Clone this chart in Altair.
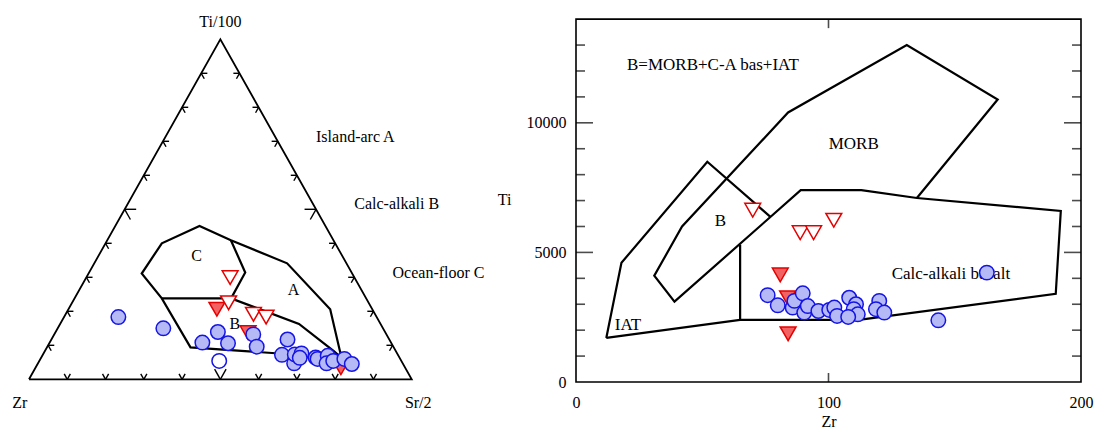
import altair as alt
import pandas as pd

FONT = "'Liberation Serif', 'Times New Roman', serif"
FS = 16
FS_FIELD = 17
BLUE = "#1414e6"
LAVENDER = "#b5b9f5"
RED = "#e50000"
PINK = "#f26262"

# ---------------- Ti/100 - Zr - Sr/2 ternary (percent of each apex) ----------------
t_circ_zr = [67.5, 57.4, 49.3, 43.7, 42.7, 34.8, 35.7, 26.6, 30.3, 28.4, 26.9, 25.0, 26.1, 21.9, 21.6, 18.5, 19.9, 17.8, 14.6, 13.4]
t_circ_ti = [18.3, 15.0, 10.8, 13.9, 10.6, 13.2, 9.6, 11.7, 7.2, 4.7, 7.3, 7.6, 6.3, 6.4, 6.0, 6.9, 4.7, 5.4, 6.0, 4.5]
t_circ_sr = [14.2, 27.6, 39.9, 42.4, 46.7, 52.0, 54.7, 61.7, 62.5, 67.0, 65.8, 67.4, 67.6, 71.7, 72.4, 74.6, 75.4, 76.8, 79.4, 82.1]

t_open_circ_zr = [47.6]
t_open_circ_ti = [5.4]
t_open_circ_sr = [47.0]

t_open_tri_zr = [32.5, 36.6, 31.8, 28.9]
t_open_tri_ti = [29.9, 22.5, 19.1, 18.3]
t_open_tri_sr = [37.6, 40.9, 49.1, 52.8]

t_fill_tri_zr = [40.6, 35.9, 16.8]
t_fill_tri_ti = [20.6, 13.7, 3.4]
t_fill_tri_sr = [38.8, 50.4, 79.8]

# Pearce & Cann field boundaries (Zr, Ti/100, Sr/2)
f_outer_zr = [26.8, 32.9, 45.3, 55.0, 53.4, 53.1, 15.2, 11.0, 15.5, 26.8]
f_outer_ti = [40.9, 45.1, 40.0, 31.1, 23.8, 9.4, 6.3, 20.6, 34.1, 40.9]
f_outer_sr = [32.3, 22.0, 14.7, 13.9, 22.8, 37.5, 78.5, 68.4, 50.4, 32.3]

f_ca_zr = [26.8, 27.8, 35.3]
f_ca_ti = [40.9, 31.4, 23.8]
f_ca_sr = [32.3, 40.8, 40.9]

f_b_zr = [53.4, 35.3, 21.3, 16.2, 15.2]
f_b_ti = [23.8, 23.8, 16.3, 8.3, 6.3]
f_b_sr = [22.8, 40.9, 62.4, 75.5, 78.5]

frame_zr = [100, 0, 0, 100]
frame_ti = [0, 100, 0, 0]
frame_sr = [0, 0, 100, 0]

tick_pcts = [10, 20, 30, 40, 50, 60, 70, 80, 90]

# labels in the triangle's cartesian frame (x: 0..100 along the base, y: 0..100 up to the apex)
t_lab_text = ["Ti/100", "Zr", "Sr/2", "C", "A", "B"]
t_lab_x = [50.0, -2.4, 101.7, 43.8, 69.1, 53.8]
t_lab_y = [105.2, -6.9, -6.9, 36.3, 26.2, 16.4]

t_key_text = ["Island-arc A", "Calc-alkali B", "Ocean-floor C"]
t_key_x = [75.0, 85.0, 95.0]
t_key_y = [71.3, 51.5, 31.4]

# ---------------- Ti vs Zr ----------------
circ_zr = [75.9, 79.9, 85.8, 86.5, 89.8, 90.4, 91.8, 96.0, 100.3, 102.3, 103.4, 108.2, 110.9, 110.0, 111.6, 107.8, 120.1, 118.8, 122.1, 143.5, 162.7]
circ_ti = [3350, 2960, 2870, 3130, 3420, 2680, 2930, 2740, 2780, 2870, 2550, 3250, 3000, 2810, 2610, 2510, 3130, 2810, 2680, 2380, 4220]

open_tri_zr = [70.0, 88.8, 94.1, 102.1]
open_tri_ti = [6630, 5760, 5760, 6240]

fill_tri_zr = [80.9, 83.8, 84.0]
fill_tri_ti = [4130, 3250, 1860]

iat_zr = [12, 18, 52, 77]
iat_ti = [1700, 4600, 8500, 6370]

main_zr = [12, 65, 112, 190, 192, 135, 113, 89, 39, 31, 42, 84, 131, 167, 135]
main_ti = [1700, 2400, 2400, 3400, 6600, 7100, 7400, 7400, 3100, 4100, 6000, 10400, 13000, 10900, 7100]

cab_zr = [65, 65]
cab_ti = [2400, 5300]

lab_text = ["B=MORB+C-A bas+IAT", "MORB", "B", "IAT", "Calc-alkali basalt"]
lab_zr = [20.2, 110.0, 57.2, 20.6, 125.0]
lab_ti = [12240, 9200, 6215, 2200, 4180]
lab_align = ["left", "center", "center", "center", "left"]

minor_ti = [1000, 2000, 3000, 4000, 6000, 7000, 8000, 9000, 11000, 12000, 13000]
major_ti = [5000, 10000]


# ======================= ternary panel =======================
TX = alt.Scale(domain=[-7.32, 124.64], nice=False, zero=False)
TY = alt.Scale(domain=[-15.21, 111.26], nice=False, zero=False)


def tern(df):
    return alt.Chart(df).transform_calculate(
        tot="datum.zr + datum.ti + datum.sr",
        cx="100 * (datum.sr + datum.ti / 2) / datum.tot",
        cy="100 * datum.ti / datum.tot",
    )


def txy():
    return dict(x=alt.X("cx:Q", scale=TX, axis=None), y=alt.Y("cy:Q", scale=TY, axis=None))


def paths(*segs):
    rows = []
    for sid, (zs, ts, ss) in enumerate(segs):
        for k, (z, t, s) in enumerate(zip(zs, ts, ss)):
            rows.append(dict(seg=sid, ord=k, zr=z, ti=t, sr=s))
    return pd.DataFrame(rows)


line_df = paths((frame_zr, frame_ti, frame_sr))
field_df = paths((f_outer_zr, f_outer_ti, f_outer_sr), (f_ca_zr, f_ca_ti, f_ca_sr), (f_b_zr, f_b_ti, f_b_sr))

tri_frame = tern(line_df).mark_line(color="black", strokeWidth=1.8).encode(
    **txy(), detail="seg:N", order="ord:Q")
fields = tern(field_df).mark_line(color="black", strokeWidth=2.2, strokeJoin="miter").encode(
    **txy(), detail="seg:N", order="ord:Q")

# chevron ticks: two short arms from each edge point, parallel to the other two edges
arm_rows = []
for p in tick_pcts:
    d = 3.0 if p == 50 else 1.6
    bases = [((100 - p, p, 0), [(-d, 0, d), (0, -d, d)]),
             ((0, p, 100 - p), [(d, 0, -d), (d, -d, 0)]),
             ((100 - p, 0, p), [(-d, d, 0), (0, d, -d)])]
    for (z, t, s), arms in bases:
        for dz, dt, ds in arms:
            arm_rows.append(dict(z0=z, t0=t, s0=s, z1=z + dz, t1=t + dt, s1=s + ds))
arm_df = pd.DataFrame(arm_rows)

ticks_t = alt.Chart(arm_df).transform_calculate(
    x0="datum.s0 + datum.t0 / 2", y0="datum.t0",
    x1="datum.s1 + datum.t1 / 2", y1="datum.t1",
).mark_rule(color="black", strokeWidth=1.4).encode(
    x=alt.X("x0:Q", scale=TX, axis=None), y=alt.Y("y0:Q", scale=TY, axis=None),
    x2="x1:Q", y2="y1:Q")

t_labels = alt.Chart(pd.DataFrame(dict(text=t_lab_text, cx=t_lab_x, cy=t_lab_y))).mark_text(
    font=FONT, fontSize=FS, color="black", align="center", baseline="middle").encode(
    **txy(), text="text:N")
t_keys = alt.Chart(pd.DataFrame(dict(text=t_key_text, cx=t_key_x, cy=t_key_y))).mark_text(
    font=FONT, fontSize=FS, color="black", align="left", baseline="middle").encode(
    **txy(), text="text:N")


def sym(shape, fill, stroke, size):
    return dict(shape=shape, filled=True, fill=fill, stroke=stroke, strokeWidth=1.5,
                size=size, opacity=1)


t_fill_tri = tern(pd.DataFrame(dict(zr=t_fill_tri_zr, ti=t_fill_tri_ti, sr=t_fill_tri_sr))).mark_point(
    **sym("triangle-down", PINK, RED, 250)).encode(**txy())
t_open_tri = tern(pd.DataFrame(dict(zr=t_open_tri_zr, ti=t_open_tri_ti, sr=t_open_tri_sr))).mark_point(
    **sym("triangle-down", "white", RED, 250)).encode(**txy())
t_open_circ = tern(pd.DataFrame(dict(zr=t_open_circ_zr, ti=t_open_circ_ti, sr=t_open_circ_sr))).mark_point(
    **sym("circle", "white", BLUE, 210)).encode(**txy())
t_circ = tern(pd.DataFrame(dict(zr=t_circ_zr, ti=t_circ_ti, sr=t_circ_sr))).mark_point(
    **sym("circle", LAVENDER, BLUE, 210)).encode(**txy())

left = alt.layer(tri_frame, fields, ticks_t, t_labels, t_keys,
                 t_fill_tri, t_open_tri, t_open_circ, t_circ).properties(width=505, height=430)

# ======================= Ti - Zr panel =======================
XS = alt.Scale(domain=[0, 200], nice=False, zero=False)
YS = alt.Scale(domain=[0, 14700], nice=False, zero=False)

x_axis = alt.Axis(values=[0, 100, 200], format="d", title="Zr", labelFont=FONT, titleFont=FONT,
                  labelFontSize=FS, titleFontSize=FS, titleFontWeight="normal",
                  labelColor="black", titleColor="black", ticks=False, tickSize=0,
                  domain=False, grid=False, labelFlush=False, labelPadding=12, titlePadding=3)
y_axis = alt.Axis(values=[0, 5000, 10000], format="d", title="Ti", labelFont=FONT, titleFont=FONT,
                  labelFontSize=FS, titleFontSize=FS, titleFontWeight="normal",
                  labelColor="black", titleColor="black", ticks=False, tickSize=0,
                  domain=False, grid=False, labelFlush=False, labelPadding=10,
                  titleAngle=0, titleAlign="center", titleBaseline="middle",
                  titleX=-72, titleY=198)


def pxy():
    return dict(x=alt.X("zr:Q", scale=XS, axis=x_axis),
                y=alt.Y("ti:Q", scale=YS, axis=y_axis))


frame = alt.Chart(pd.DataFrame(dict(zr=[0], ti=[0], zr2=[200], ti2=[14000]))).mark_rect(
    fillOpacity=0, stroke="black", strokeWidth=1.6).encode(**pxy(), x2="zr2:Q", y2="ti2:Q")


def ytick(vals, xv, length, off):
    return alt.Chart(pd.DataFrame(dict(ti=vals, zr=[xv] * len(vals)))).mark_tick(
        orient="horizontal", size=length, thickness=1.6, color="black", xOffset=off).encode(**pxy())


yt = [ytick(minor_ti, 0, 9, 4.5), ytick(minor_ti, 200, 9, -4.5),
      ytick(major_ti, 0, 17, 8.5), ytick(major_ti, 200, 17, -8.5)]
xt_top = alt.Chart(pd.DataFrame(dict(zr=[100], ti=[14000]))).mark_tick(
    orient="vertical", size=9, thickness=1.6, color="black", yOffset=4.5).encode(**pxy())
xt_bot = alt.Chart(pd.DataFrame(dict(zr=[100], ti=[0]))).mark_tick(
    orient="vertical", size=9, thickness=1.6, color="black", yOffset=-4.5).encode(**pxy())

rows = []
for sid, (zs, ts) in enumerate([(iat_zr, iat_ti), (main_zr, main_ti), (cab_zr, cab_ti)]):
    for k, (z, t) in enumerate(zip(zs, ts)):
        rows.append(dict(seg=sid, ord=k, zr=z, ti=t))
fields_r = alt.Chart(pd.DataFrame(rows)).mark_line(color="black", strokeWidth=2.2, strokeJoin="miter").encode(
    **pxy(), detail="seg:N", order="ord:Q")

lab_df = pd.DataFrame(dict(text=lab_text, zr=lab_zr, ti=lab_ti, al=lab_align))
labs_l = alt.Chart(lab_df).transform_filter("datum.al == 'left'").mark_text(
    font=FONT, fontSize=FS_FIELD, color="black", align="left", baseline="middle").encode(**pxy(), text="text:N")
labs_c = alt.Chart(lab_df).transform_filter("datum.al == 'center'").mark_text(
    font=FONT, fontSize=FS_FIELD, color="black", align="center", baseline="middle").encode(**pxy(), text="text:N")

r_fill_tri = alt.Chart(pd.DataFrame(dict(zr=fill_tri_zr, ti=fill_tri_ti))).mark_point(
    **sym("triangle-down", PINK, RED, 250)).encode(**pxy())
r_open_tri = alt.Chart(pd.DataFrame(dict(zr=open_tri_zr, ti=open_tri_ti))).mark_point(
    **sym("triangle-down", "white", RED, 250)).encode(**pxy())
r_circ = alt.Chart(pd.DataFrame(dict(zr=circ_zr, ti=circ_ti))).mark_point(
    **sym("circle", LAVENDER, BLUE, 210)).encode(**pxy())

right = alt.layer(frame, *yt, xt_top, xt_bot, fields_r, labs_l, labs_c,
                  r_fill_tri, r_open_tri, r_circ).properties(width=505, height=381)

chart = alt.hconcat(left, right, spacing=70, bounds="flush").properties(
    padding=0).configure_view(stroke="transparent")

chart.save("out.html", embed_options={"renderer": "svg", "actions": False})
